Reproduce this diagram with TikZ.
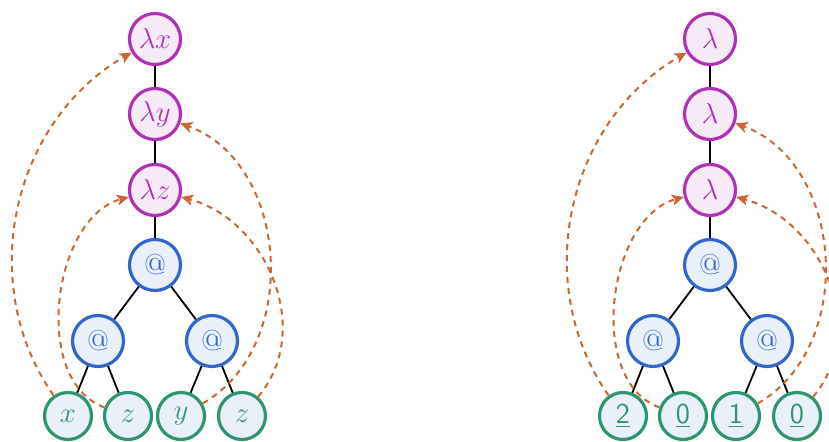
\documentclass[tikz,border=0pt]{standalone}
\usetikzlibrary{arrows.meta}
\definecolor{lampurple}{RGB}{176,50,180}
\definecolor{lamfill}{RGB}{247,234,247}
\definecolor{appblue}{RGB}{51,102,204}
\definecolor{appfill}{RGB}{234,240,250}
\definecolor{vargreen}{RGB}{46,150,110}
\definecolor{bindorange}{RGB}{204,102,51}
\begin{document}
\begin{tikzpicture}[x=0.5pt,y=0.5pt,
  lamnode/.style={circle, draw=lampurple, fill=lamfill, text=lampurple, line width=1.6pt, minimum size=25.5pt, inner sep=0pt, font=\Large},
  appnode/.style={circle, draw=appblue, fill=appfill, text=appblue, line width=1.6pt, minimum size=25.5pt, inner sep=0pt, font=\Large},
  varnode/.style={circle, draw=vargreen, fill=appfill, text=vargreen, line width=1.6pt, minimum size=23.5pt, inner sep=0pt, font=\Large},
  treeedge/.style={line width=0.9pt, black},
  bindarrow/.style={draw=bindorange, line width=1pt, dash pattern=on 3pt off 2.5pt, -{Stealth[length=6pt,width=5.5pt,inset=1.5pt]}}
]
\useasboundingbox (0,0) rectangle (829,-442);

% ---------- left tree ----------
\node[lamnode] (lx) at (155,-39) {$\lambda x$};
\node[lamnode] (ly) at (155,-114) {$\lambda y$};
\node[lamnode] (lz) at (155,-190) {$\lambda z$};
\node[appnode] (a0) at (155,-265) {@};
\node[appnode] (a1) at (98,-341) {@};
\node[appnode] (a2) at (212,-341) {@};
\node[varnode] (v1) at (68,-416) {$x$};
\node[varnode] (v2) at (128,-416) {$z$};
\node[varnode] (v3) at (181,-416) {$y$};
\node[varnode] (v4) at (242,-416) {$z$};

\draw[treeedge] (lx) -- (ly);
\draw[treeedge] (ly) -- (lz);
\draw[treeedge] (lz) -- (a0);
\draw[treeedge] (a0) -- (a1);
\draw[treeedge] (a0) -- (a2);
\draw[treeedge] (a1) -- (v1);
\draw[treeedge] (a1) -- (v2);
\draw[treeedge] (a2) -- (v3);
\draw[treeedge] (a2) -- (v4);

\draw[bindarrow] (v1) to[out=125, in=210] (lx);
\draw[bindarrow] (v2) to[out=160, in=195, looseness=0.95] (lz);
\draw[bindarrow] (v3) to[out=30, in=-20, looseness=1.05] (ly);
\draw[bindarrow] (v4) to[out=50, in=-15, looseness=1.05] (lz);

% ---------- right tree ----------
\node[lamnode] (rl1) at (710,-39) {$\lambda$};
\node[lamnode] (rl2) at (710,-114) {$\lambda$};
\node[lamnode] (rl3) at (710,-190) {$\lambda$};
\node[appnode] (ra0) at (710,-265) {@};
\node[appnode] (ra1) at (653,-341) {@};
\node[appnode] (ra2) at (767,-341) {@};
\node[varnode] (rv1) at (623,-416) {\underline{\textsf{2}}};
\node[varnode] (rv2) at (683,-416) {\underline{\textsf{0}}};
\node[varnode] (rv3) at (736,-416) {\underline{\textsf{1}}};
\node[varnode] (rv4) at (797,-416) {\underline{\textsf{0}}};

\draw[treeedge] (rl1) -- (rl2);
\draw[treeedge] (rl2) -- (rl3);
\draw[treeedge] (rl3) -- (ra0);
\draw[treeedge] (ra0) -- (ra1);
\draw[treeedge] (ra0) -- (ra2);
\draw[treeedge] (ra1) -- (rv1);
\draw[treeedge] (ra1) -- (rv2);
\draw[treeedge] (ra2) -- (rv3);
\draw[treeedge] (ra2) -- (rv4);

\draw[bindarrow] (rv1) to[out=125, in=210] (rl1);
\draw[bindarrow] (rv2) to[out=160, in=195, looseness=0.95] (rl3);
\draw[bindarrow] (rv3) to[out=30, in=-20, looseness=1.05] (rl2);
\draw[bindarrow] (rv4) to[out=50, in=-15, looseness=1.05] (rl3);
\end{tikzpicture}
\end{document}
